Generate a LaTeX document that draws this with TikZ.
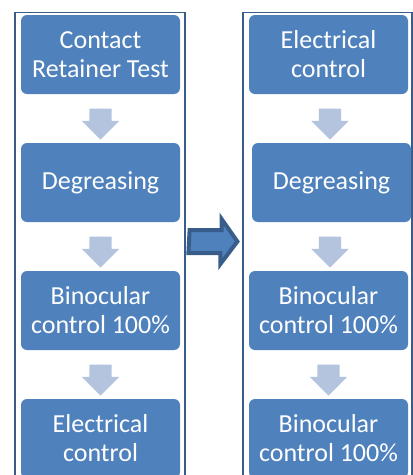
\documentclass[tikz,border=0pt]{standalone}
\usepackage{fontspec}
\setmainfont{Carlito}
\usetikzlibrary{shapes.arrows,calc}
\definecolor{boxblue}{HTML}{4F81BD}
\definecolor{lightblue}{HTML}{B4C4DF}
\definecolor{darkblue}{HTML}{385D8A}
\begin{document}
\begin{tikzpicture}[x=1pt, y=-1pt,
  box/.style={rectangle, rounded corners=6pt, fill=boxblue, text=white, minimum width=159pt, minimum height=79pt, align=center, inner sep=0pt, font=\fontsize{26}{29}\selectfont},
  down/.style={single arrow, fill=lightblue, single arrow head extend=7.5pt, single arrow head indent=0pt, minimum height=31pt, minimum width=37pt, inner xsep=11pt, inner ysep=0pt, shape border rotate=270},
  bigarrow/.style={draw=darkblue, fill=boxblue, line width=4pt, line join=miter},
  frame/.style={rectangle, draw=darkblue, line width=1.2pt, fill=white, minimum width=170pt, minimum height=510pt, anchor=north}]
\useasboundingbox (0,0) rectangle (413,475);
\clip (0,0) rectangle (413,475);
% the two frames
\node[frame] (F1) at (100,12) {};
\node[frame, minimum width=169pt] (F2) at (327.5,12) {};
% left column
\node[box] (L1) at (100.5,54.5) {Contact\\Retainer Test};
\node[box] (L2) at (100.5,182.5) {Degreasing};
\node[box] (L3) at (100.5,310.5) {Binocular\\control 100\%};
\node[box] (L4) at (100.5,438.5) {Electrical\\control};
% right column
\node[box] (R1) at (328.5,54.5) {Electrical\\control};
\node[box] (R2) at (331.5,182.5) {Degreasing};
\node[box] (R3) at (328.5,310.5) {Binocular\\control 100\%};
\node[box] (R4) at (328.5,438.5) {Binocular\\control 100\%};
% arrows
\node[down] (a1) at ($(L1.south)!.5!(L2.north)$) {};
\node[down] (a2) at ($(L2.south)!.5!(L3.north)$) {};
\node[down] (a3) at ($(L3.south)!.5!(L4.north)$) {};
\node[down] (b1) at ($(R1.south)!.5!(R2.north)$) {};
\node[down] (b2) at ($(R2.south)!.5!(R3.north)$) {};
\node[down] (b3) at ($(R3.south)!.5!(R4.north)$) {};
% arrow from the first frame to the second
\draw[bigarrow] ($(F1.north east)+(4,218)$) -- ++(32,0) -- ++(0,-11)
  -- ($(F2.north west)+(-5,229.5)$) coordinate (tip) -- ++(-17,22.5) -- ++(0,-11) -- ++(-32,0) -- cycle;
\end{tikzpicture}
\end{document}
